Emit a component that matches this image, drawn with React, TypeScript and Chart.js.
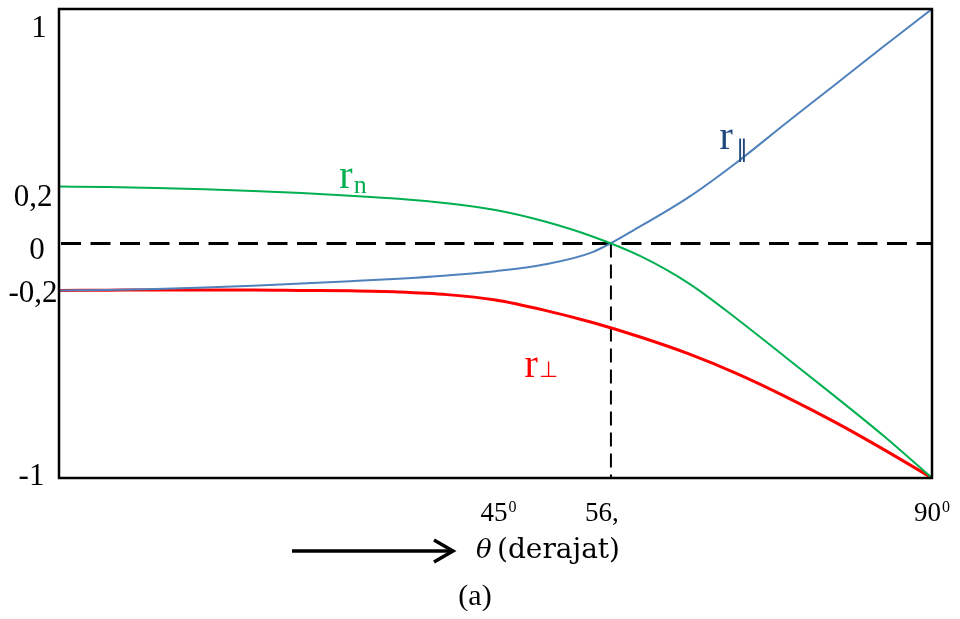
import { useEffect, useRef } from "react";
import { Chart, registerables } from "chart.js";

Chart.register(...registerables);

// Incidence angle (degrees) and reflection coefficients
const theta = [0, 5, 10, 15, 20, 25, 30, 35, 40, 45, 50, 55, 60, 65, 70, 75, 80, 85, 90];
const rN = [0.243, 0.241, 0.237, 0.231, 0.224, 0.215, 0.204, 0.191, 0.172, 0.143, 0.095, 0.03, -0.055, -0.172, -0.325, -0.488, -0.652, -0.82, -1];
const rParallel = [-0.2, -0.198, -0.194, -0.188, -0.18, -0.171, -0.161, -0.15, -0.136, -0.118, -0.09, -0.037, 0.075, 0.2, 0.35, 0.515, 0.677, 0.84, 1];
const rPerp = [-0.2, -0.199, -0.198, -0.198, -0.198, -0.2, -0.202, -0.207, -0.218, -0.241, -0.284, -0.337, -0.4, -0.472, -0.557, -0.655, -0.762, -0.878, -1];

const brewsterAngle = 56.9;

const yTickValues = [1, 0.2, 0, -0.2, -1];
const yTickLabels = ["1", "0,2", "0", "-0,2", "-1"];
const xTickValues = [45, 56.9, 90];
const xTickLabels = ["45", "56,", "90"];
const xTickSups = ["0", "", "0"];

const axisSymbol = "θ";
const axisTitle = "(derajat)";
const caption = "(a)";

const SERIF = '"Liberation Serif", "Times New Roman", serif';

function toPoints(values: number[]) {
  return theta.map((t, i) => ({ x: t, y: values[i] }));
}

// dashed guides: zero line and the vertical line at the Brewster angle
const guidePlugin = {
  id: "guides",
  beforeDatasetsDraw(chart: any) {
    const { ctx, chartArea, scales } = chart;
    const y0 = scales.y.getPixelForValue(0);
    const xb = scales.x.getPixelForValue(brewsterAngle);
    ctx.save();
    ctx.strokeStyle = "#000";
    ctx.lineWidth = 3;
    ctx.setLineDash([20, 9.5]);
    ctx.beginPath();
    ctx.moveTo(chartArea.left + 2, y0);
    ctx.lineTo(chartArea.right, y0);
    ctx.stroke();
    ctx.lineWidth = 2;
    ctx.setLineDash([14, 7]);
    ctx.beginPath();
    ctx.moveTo(xb, y0);
    ctx.lineTo(xb, chartArea.bottom);
    ctx.stroke();
    ctx.restore();
  },
  afterDatasetsDraw(chart: any) {
    const { ctx, chartArea } = chart;
    ctx.save();
    ctx.strokeStyle = "#000";
    ctx.lineWidth = 2.5;
    ctx.strokeRect(chartArea.left, chartArea.top, chartArea.right - chartArea.left, chartArea.bottom - chartArea.top);
    ctx.restore();
  },
};

// tick labels, curve names, axis title and caption
const textPlugin = {
  id: "texts",
  afterDraw(chart: any) {
    const { ctx, scales } = chart;
    const xs = scales.x;
    const ys = scales.y;
    ctx.save();
    ctx.fillStyle = "#000";
    ctx.textBaseline = "alphabetic";

    // y tick labels
    const yCenters = [39, 33, 37, 33, 31.5];
    const yNudges = [28, 9, 15, 12, 7];
    ctx.font = `31px ${SERIF}`;
    ctx.textAlign = "center";
    yTickValues.forEach((v, i) => {
      ctx.fillText(yTickLabels[i], yCenters[i], ys.getPixelForValue(v) + yNudges[i]);
    });

    // x tick labels with superscript degree marks
    const xNudges = [3, -9, 0];
    const xBase = 521;
    xTickValues.forEach((v, i) => {
      ctx.font = `27px ${SERIF}`;
      const mainW = ctx.measureText(xTickLabels[i]).width;
      ctx.font = `16px ${SERIF}`;
      const supW = xTickSups[i] ? ctx.measureText(xTickSups[i]).width + 1 : 0;
      const left = xs.getPixelForValue(v) + xNudges[i] - (mainW + supW) / 2;
      ctx.textAlign = "left";
      ctx.font = `27px ${SERIF}`;
      ctx.fillText(xTickLabels[i], left, xBase);
      if (xTickSups[i]) {
        ctx.font = `16px ${SERIF}`;
        ctx.fillText(xTickSups[i], left + mainW + 1, xBase - 9);
      }
    });

    // curve names
    const label = (main: string, sub: string, color: string, t: number, v: number, subFont: string, subDx: number, subDy: number) => {
      const x = xs.getPixelForValue(t);
      const y = ys.getPixelForValue(v);
      ctx.fillStyle = color;
      ctx.textAlign = "left";
      ctx.font = `40px ${SERIF}`;
      ctx.fillText(main, x, y);
      const w = ctx.measureText(main).width;
      ctx.font = subFont;
      ctx.fillText(sub, x + w + subDx, y + subDy);
    };
    label("r", "n", "#00B050", 28.9, 0.235, `26px ${SERIF}`, 1, 5);
    label("r", "∥", "#1F497D", 68.1, 0.405, `24px "DejaVu Sans", sans-serif`, 3, 8);
    label("r", "⊥", "#FF0000", 48.0, -0.571, `22px "DejaVu Sans", sans-serif`, 1, 0);

    // arrow pointing to increasing angle
    ctx.strokeStyle = "#000";
    ctx.lineWidth = 3.5;
    ctx.lineCap = "butt";
    ctx.beginPath();
    ctx.moveTo(292, 551);
    ctx.lineTo(451, 551);
    ctx.stroke();
    ctx.lineJoin = "miter";
    ctx.beginPath();
    ctx.moveTo(434, 540);
    ctx.lineTo(453, 551);
    ctx.lineTo(434, 562);
    ctx.stroke();

    // axis title
    ctx.fillStyle = "#000";
    ctx.textAlign = "left";
    ctx.font = `italic 26px "DejaVu Serif", serif`;
    ctx.fillText(axisSymbol, 476, 558);
    ctx.font = `28px "DejaVu Serif", serif`;
    ctx.fillText(axisTitle, 497, 558);

    // caption
    ctx.textAlign = "center";
    ctx.font = `30px ${SERIF}`;
    ctx.fillText(caption, 475, 605);

    ctx.restore();
  },
};

export default function App() {
  const canvasRef = useRef<HTMLCanvasElement | null>(null);

  useEffect(() => {
    const canvas = canvasRef.current;
    if (!canvas) return;
    const lineStyle = { cubicInterpolationMode: "monotone", pointRadius: 0, fill: false };
    const chart = new Chart(canvas, {
      type: "line",
      data: {
        datasets: [
          { label: "r_n", data: toPoints(rN), borderColor: "#00B050", borderWidth: 2, ...lineStyle },
          { label: "r_parallel", data: toPoints(rParallel), borderColor: "#4F81BD", borderWidth: 2, ...lineStyle },
          { label: "r_perp", data: toPoints(rPerp), borderColor: "#FF0000", borderWidth: 3, ...lineStyle },
        ],
      },
      options: {
        animation: false,
        responsive: false,
        devicePixelRatio: 1,
        layout: { padding: { left: 59, top: 9, right: 28, bottom: 141 } },
        scales: {
          x: { type: "linear", min: 0, max: 90, display: false },
          y: { type: "linear", min: -1, max: 1, display: false },
        },
        plugins: { legend: { display: false }, tooltip: { enabled: false } },
      },
      plugins: [guidePlugin, textPlugin],
    } as any);
    return () => chart.destroy();
  }, []);

  return (
    <div style={{ position: "absolute", left: 0, top: 0, width: 960, height: 619, background: "#fff" }}>
      <canvas ref={canvasRef} width={960} height={619} style={{ display: "block" }} />
    </div>
  );
}
